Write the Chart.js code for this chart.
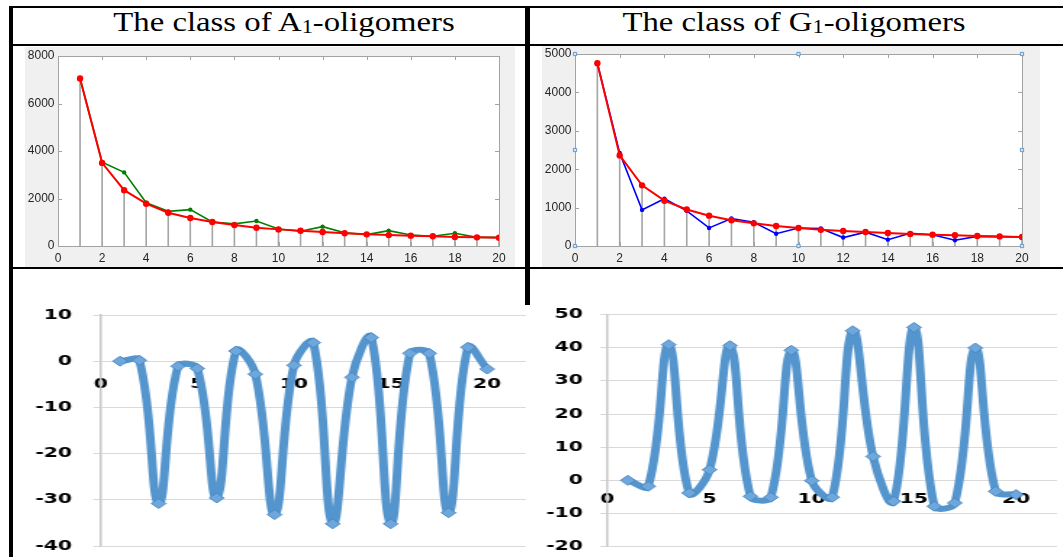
<!DOCTYPE html>
<html>
<head>
<meta charset="utf-8">
<script src="https://cdn.jsdelivr.net/npm/chart.js@4.4.1/dist/chart.umd.min.js"></script>
<style>
    html, body { margin: 0; padding: 0; background: #fff; overflow: hidden; }
    #page { position: relative; width: 1063px; height: 557px; overflow: hidden; }
    .rule { position: absolute; background: #000; z-index: 5; }
    .title {
        position: absolute; top: 4px; line-height: 36px;
        font-family: "Liberation Serif", serif; font-size: 28px; color: #000;
        white-space: nowrap; transform: translateX(-50%) scaleX(1.17);
    }
    .title .sub { font-size: 0.68em; position: relative; top: 0.12em; }
    .panel { position: absolute; background: #f0f0f0; }
    .sheet { position: absolute; transform-origin: 0 0; transform: scaleX(1.45); }
    canvas { display: block; }
</style>
</head>
<body>
<div id="page">
    <div class="rule" style="left:9px; top:6px; width:1054px; height:2px;"></div>
    <div class="rule" style="left:9px; top:6px; width:4px; height:551px;"></div>
    <div class="rule" style="left:13px; top:44px; width:1050px; height:2px;"></div>
    <div class="rule" style="left:525px; top:6px; width:5px; height:299px;"></div>
    <div class="rule" style="left:13px; top:267px; width:1050px; height:2px;"></div>

    <div class="title" style="left:284px;">The class of A<span class="sub">1</span>-oligomers</div>
    <div class="title" style="left:794px;">The class of G<span class="sub">1</span>-oligomers</div>

    <div class="panel" style="left:25px; top:47px; width:490px; height:220px;"><canvas id="grafico-a" width="490" height="220"></canvas></div>
    <div class="panel" style="left:542px; top:46px; width:498px; height:221px;"><canvas id="grafico-g" width="498" height="221"></canvas></div>

    <div class="sheet" style="left:14px; top:300px;"><canvas id="desvio-a" width="359" height="257"></canvas></div>
    <div class="sheet" style="left:535px; top:300px;"><canvas id="desvio-g" width="366" height="257"></canvas></div>
</div>

<script>
// Oligomer size (x axis of every panel)
const oligomerN = [1, 2, 3, 4, 5, 6, 7, 8, 9, 10, 11, 12, 13, 14, 15, 16, 17, 18, 19, 20];

// A1 class: observed counts (green) and fitted curve (red)
const countsA = [7050, 3530, 3100, 1820, 1460, 1530, 1010, 930, 1050, 715, 620, 815, 560, 480, 645, 460, 410, 535, 365, 365];
const fitA = [7050, 3500, 2350, 1780, 1400, 1180, 1010, 880, 770, 700, 645, 590, 535, 490, 460, 435, 410, 380, 365, 350];

// G1 class: observed counts (blue) and fitted curve (red)
const countsG = [4760, 2420, 940, 1230, 915, 470, 715, 620, 320, 470, 455, 220, 360, 165, 330, 295, 150, 250, 245, 235];
const fitG = [4760, 2360, 1580, 1180, 950, 790, 670, 590, 520, 470, 420, 390, 365, 340, 315, 295, 280, 260, 250, 235];

// Differences plotted in the lower panels
const diffA = [0, 0.2, -30.8, -1.1, -1.6, -29.6, 2.2, -2.8, -33.2, -0.9, 4.0, -35.2, -3.5, 5.1, -35.2, 1.7, 1.7, -32.8, 3.0, -1.7];
const diffG = [0, -1.8, 40.9, -3.8, 3.2, 40.6, -4.8, -5.1, 39.2, -0.1, -5.1, 45.1, 7.2, -6.3, 46.1, -7.8, -6.8, 39.9, -3.3, -4.3];

// Tick labels
const xTicksTop = [0, 2, 4, 6, 8, 10, 12, 14, 16, 18, 20];
const yTicksA = [0, 2000, 4000, 6000, 8000];
const yTicksG = [0, 1000, 2000, 3000, 4000, 5000];
const xTicksBottom = [0, 5, 10, 15, 20];
const yTicksDiffA = [-40, -30, -20, -10, 0, 10];
const yTicksDiffG = [-20, -10, 0, 10, 20, 30, 40, 50];

// Selection handles shown on the G1 axes box
const handleX = [0, 10, 20, 0, 20, 0, 10, 20];
const handleY = [5000, 5000, 5000, 2500, 2500, 0, 0, 0];

Chart.defaults.animation = false;
Chart.defaults.responsive = false;
Chart.defaults.devicePixelRatio = 1;
Chart.defaults.plugins.legend.display = false;
Chart.defaults.plugins.tooltip.enabled = false;

function pontos(xs, ys) {
    return xs.map((x, i) => ({ x: x, y: ys[i] }));
}

function fixarTicks(valores) {
    return scale => { scale.ticks = valores.map(v => ({ value: v })); };
}

// Fixed axis width; the label padding must not push the plot area in
function larguraFixa(largura) {
    return scale => {
        scale.width = largura;
        scale.paddingTop = 0;
        scale.paddingBottom = 0;
    };
}

// White plot area with a grey box and inward ticks, like a MATLAB axes
const caixaMatlab = {
    id: 'caixaMatlab',
    beforeDatasetsDraw(chart) {
        const { ctx, chartArea: a, scales } = chart;
        ctx.save();
        ctx.fillStyle = '#ffffff';
        ctx.fillRect(a.left, a.top, a.width, a.height);
        ctx.strokeStyle = '#a3a3a3';
        ctx.lineWidth = 1;
        ctx.beginPath();
        scales.x.ticks.forEach(t => {
            const px = Math.round(scales.x.getPixelForValue(t.value)) + 0.5;
            ctx.moveTo(px, a.top); ctx.lineTo(px, a.top + 4);
            ctx.moveTo(px, a.bottom); ctx.lineTo(px, a.bottom - 4);
        });
        scales.y.ticks.forEach(t => {
            const py = Math.round(scales.y.getPixelForValue(t.value)) + 0.5;
            ctx.moveTo(a.left, py); ctx.lineTo(a.left + 4, py);
            ctx.moveTo(a.right, py); ctx.lineTo(a.right - 4, py);
        });
        ctx.stroke();
        ctx.strokeRect(Math.round(a.left) + 0.5, Math.round(a.top) + 0.5, Math.round(a.width), Math.round(a.height));
        ctx.restore();
    }
};

function criarGraficoTopo(canvasId, contagens, corContagem, ajuste, yMax, yTicks, extras, padDireita, padTopo) {
    const fonte = { family: 'Liberation Sans', size: 12 };
    const datasets = [
        {
            type: 'bar', data: pontos(oligomerN, ajuste), barThickness: 1,
            backgroundColor: '#a6a6a6', order: 10
        },
        {
            data: pontos(oligomerN, contagens), borderColor: corContagem, backgroundColor: corContagem,
            borderWidth: 1.6, pointRadius: 2.2, pointBorderWidth: 0, tension: 0, order: 3
        },
        {
            data: pontos(oligomerN, ajuste), borderColor: '#ff0000', backgroundColor: '#ff0000',
            borderWidth: 2, pointRadius: 3.2, pointBorderWidth: 0, tension: 0, order: 2
        }
    ].concat(extras);

    new Chart(document.getElementById(canvasId), {
        type: 'line',
        data: { datasets: datasets },
        options: {
            layout: { padding: { left: 0, right: padDireita, top: padTopo, bottom: 0 } },
            scales: {
                x: {
                    type: 'linear', min: 0, max: 20, offset: false,
                    afterBuildTicks: fixarTicks(xTicksTop),
                    afterFit: s => { s.height = 21; },
                    grid: { display: false, drawTicks: false },
                    border: { display: false },
                    ticks: { padding: 5, font: fonte, color: '#262626', maxRotation: 0, autoSkip: false, callback: v => String(v) }
                },
                y: {
                    type: 'linear', min: 0, max: yMax,
                    afterBuildTicks: fixarTicks(yTicks),
                    afterFit: larguraFixa(33),
                    grid: { display: false, drawTicks: false },
                    border: { display: false },
                    ticks: { padding: 3.5, font: fonte, color: '#262626', callback: v => String(v) }
                }
            }
        },
        plugins: [caixaMatlab]
    });
}

function criarGraficoDesvio(canvasId, valores, yMin, yMax, yTicks, larguraEixo, padTicks, padRotulosX, padTopo, padBase) {
    const fonte = { family: 'DejaVu Sans', size: 14, weight: 'bold' };
    new Chart(document.getElementById(canvasId), {
        type: 'line',
        data: {
            datasets: [{
                data: pontos(oligomerN, valores),
                borderColor: '#5495cd',
                borderWidth: 6,
                tension: 0.4,
                pointStyle: 'rectRot',
                pointRadius: 5,
                pointBackgroundColor: '#6ea7db',
                pointBorderColor: '#4a88c2',
                pointBorderWidth: 1
            }]
        },
        options: {
            layout: { padding: { left: 0, right: 0, top: padTopo, bottom: padBase } },
            scales: {
                x: {
                    type: 'linear', min: 0, max: 22, position: { y: 0 },
                    afterBuildTicks: fixarTicks(xTicksBottom),
                    afterFit: s => { s.height = 0; },
                    grid: { display: false, drawTicks: false },
                    border: { display: false },
                    ticks: { padding: padRotulosX, font: fonte, color: '#000', maxRotation: 0, autoSkip: false, callback: v => String(v) }
                },
                y: {
                    type: 'linear', min: yMin, max: yMax,
                    afterBuildTicks: fixarTicks(yTicks),
                    afterFit: larguraFixa(larguraEixo),
                    grid: { color: '#d9d9d9', lineWidth: 1, drawTicks: true, tickLength: 5 },
                    border: { display: true, color: '#c6c6c6', width: 1.5 },
                    ticks: { padding: padTicks, font: fonte, color: '#000', callback: v => String(v) }
                }
            }
        }
    });
}

// Upper panels
criarGraficoTopo('grafico-a', countsA, '#008000', fitA, 8000, yTicksA, [], 16, 9);
criarGraficoTopo('grafico-g', countsG, '#0000ff', fitG, 5000, yTicksG, [{
    type: 'scatter', data: pontos(handleX, handleY), showLine: false, clip: false,
    pointStyle: 'rect', pointRadius: 2.3, backgroundColor: '#d6e6f5',
    borderColor: '#5b9bd5', borderWidth: 1, order: 0
}], 18, 8);

// Lower panels
criarGraficoDesvio('desvio-a', diffA, -40, 10, yTicksDiffA, 59.8, 14.8, 15.2, 15, 11);
criarGraficoDesvio('desvio-g', diffG, -20, 50, yTicksDiffG, 49.9, 11.8, 10.9, 14.5, 10.3);
</script>
</body>
</html>
